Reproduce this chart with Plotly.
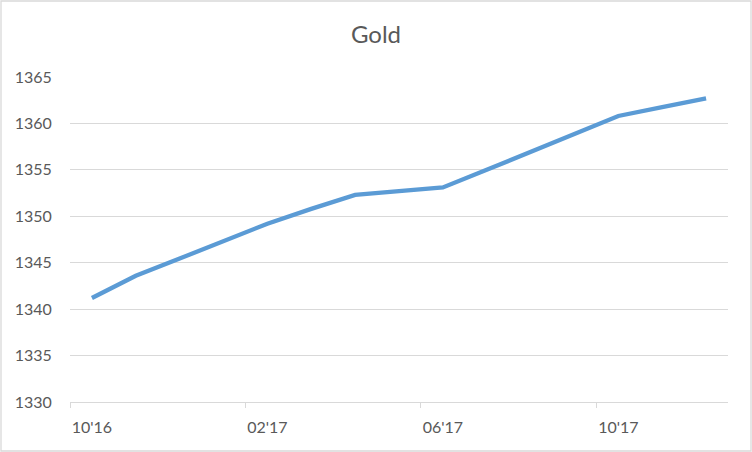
import plotly.graph_objects as go

# monthly gold prices, 10'16 .. 12'17
months = ["10'16", "11'16", "12'16", "01'17", "02'17", "03'17", "04'17", "05'17",
          "06'17", "07'17", "08'17", "09'17", "10'17", "11'17", "12'17"]
gold = [1341.2, 1343.6, 1345.45, 1347.3, 1349.2, 1350.8, 1352.3, 1352.7,
        1353.1, 1355.0, 1356.95, 1358.9, 1360.8, 1361.75, 1362.7]

label_idx = [0, 4, 8, 12]
tick_bounds = [-0.5, 3.5, 7.5, 11.5]

W, H = 752, 452
ml, mr, mt, mb = 70, 24, 77, 50
pw, ph = W - ml - mr, H - mt - mb

txt = "#595959"
grid = "#D9D9D9"
fnt = "Lato"

x = list(range(len(months)))

fig = go.Figure()
fig.add_trace(go.Scatter(x=x, y=gold, mode="lines",
                         line=dict(color="#5B9BD5", width=4.3),
                         showlegend=False, hoverinfo="skip"))
# invisible trace so the second x axis (tick marks only) is drawn
fig.add_trace(go.Scatter(x=[x[0]], y=[gold[0]], xaxis="x2", mode="markers",
                         marker=dict(opacity=0), showlegend=False, hoverinfo="skip"))

fig.update_layout(
    width=W, height=H,
    margin=dict(l=ml, r=mr, t=mt, b=mb),
    paper_bgcolor="white", plot_bgcolor="white",
    font=dict(family=fnt, size=16, color=txt),
    title=dict(text="Gold", x=0.5, xanchor="center", y=1 - 35 / H, yanchor="middle",
               yref="container", font=dict(family=fnt, size=24, color=txt)),
    xaxis=dict(range=[-0.5, len(months) - 0.5], tickvals=label_idx,
               ticktext=[months[i] for i in label_idx],
               ticks="outside", ticklen=11, tickcolor="rgba(0,0,0,0)",
               showgrid=False, zeroline=False,
               showline=True, linecolor=grid, linewidth=1.3),
    xaxis2=dict(range=[-0.5, len(months) - 0.5], overlaying="x", side="bottom",
                tickvals=tick_bounds, ticks="outside", ticklen=5, tickcolor=grid,
                tickwidth=1.3, showticklabels=False, showgrid=False, zeroline=False,
                showline=False),
    yaxis=dict(range=[1330, 1365], dtick=5, tick0=1330,
               showgrid=True, gridcolor=grid, gridwidth=1.3,
               zeroline=False, showline=False,
               ticks="outside", ticklen=14, tickcolor="rgba(0,0,0,0)"),
    shapes=[dict(type="rect", xref="paper", yref="paper",
                 x0=-(ml - 1) / pw, x1=1 + (mr - 1) / pw,
                 y0=-(mb - 1) / ph, y1=1 + (mt - 1) / ph,
                 line=dict(color=grid, width=1.3), fillcolor="rgba(0,0,0,0)",
                 layer="below")],
)

# drop the browser's default body margin so the chart sits at 0,0
fig.write_html("out.html", config={"displayModeBar": False},
               post_script="document.body.style.margin='0px';")
